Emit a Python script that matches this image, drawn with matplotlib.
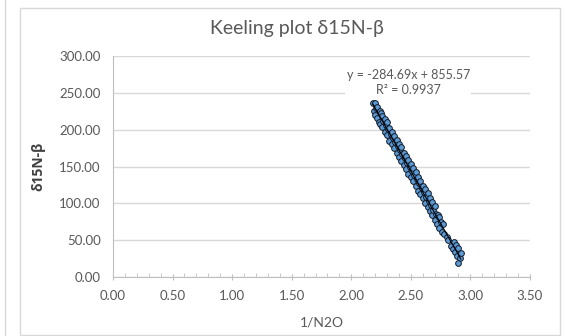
import matplotlib.pyplot as plt
from matplotlib.lines import Line2D
from matplotlib.patches import Rectangle
from matplotlib.ticker import MultipleLocator, FormatStrFormatter

plt.rcParams['font.family'] = ['Lato', 'DejaVu Sans']

# 1/N2O 与 δ15N-β 数据
inv_n2o = [2.18, 2.19, 2.20, 2.20, 2.21, 2.22, 2.22, 2.23, 2.24, 2.24, 2.25, 2.26,
           2.26, 2.27, 2.28, 2.28, 2.29, 2.30, 2.30, 2.31, 2.32, 2.32, 2.33, 2.34,
           2.34, 2.35, 2.36, 2.36, 2.37, 2.38, 2.38, 2.39, 2.40, 2.40, 2.41, 2.42,
           2.42, 2.43, 2.44, 2.44, 2.45, 2.46, 2.46, 2.47, 2.48, 2.48, 2.49, 2.50,
           2.50, 2.51, 2.52, 2.52, 2.53, 2.54, 2.54, 2.55, 2.56, 2.56, 2.57, 2.58,
           2.58, 2.59, 2.60, 2.60, 2.61, 2.62, 2.62, 2.63, 2.64, 2.64, 2.65, 2.66,
           2.66, 2.67, 2.68, 2.68, 2.69, 2.70, 2.70, 2.71, 2.72, 2.73, 2.74, 2.74,
           2.75, 2.76, 2.77, 2.78, 2.80, 2.81, 2.84, 2.85, 2.86, 2.87, 2.88, 2.89,
           2.90, 2.91, 2.92, 2.90]
d15n_beta = [236, 226, 236, 220, 230, 216, 231, 211, 225, 208, 222, 203,
             218, 212, 197, 215, 206, 193, 210, 201, 185, 202, 194, 180,
             197, 189, 175, 191, 183, 169, 186, 178, 163, 180, 172, 158,
             176, 167, 152, 169, 161, 146, 164, 155, 140, 159, 150, 136,
             153, 144, 130, 148, 139, 124, 142, 133, 117, 136, 127, 113,
             131, 121, 107, 124, 115, 101, 119, 109, 95, 114, 103, 90,
             107, 98, 84, 102, 91, 78, 96, 86, 72, 84, 67, 82,
             75, 61, 72, 58, 54, 50, 42, 38, 47, 34, 44, 29,
             39, 26, 32, 19]

slope = -284.69
intercept = 855.57
r2 = 0.9937

grey = '#595959'

fig = plt.figure(figsize=(5.65, 3.36), dpi=100)
ax = fig.add_axes([0.2, 0.1756, 0.738, 0.6577])

ax.scatter(inv_n2o, d15n_beta, s=17, c='#5B9BD5', edgecolors='#111827',
           linewidths=0.7, zorder=3)
x0, x1 = min(inv_n2o), max(inv_n2o)
ax.plot([x0, x1], [slope * x0 + intercept, slope * x1 + intercept],
        color='black', lw=0.8, zorder=4)

ax.set_xlim(0, 3.5)
ax.set_ylim(0, 300)
ax.xaxis.set_major_locator(MultipleLocator(0.5))
ax.xaxis.set_minor_locator(MultipleLocator(0.1))
ax.yaxis.set_major_locator(MultipleLocator(50))
ax.xaxis.set_major_formatter(FormatStrFormatter('%.2f'))
ax.yaxis.set_major_formatter(FormatStrFormatter('%.2f'))
ax.grid(axis='y', color='#D9D9D9', lw=1)
ax.set_axisbelow(True)
for s in ['top', 'right']:
    ax.spines[s].set_visible(False)
for s in ['left', 'bottom']:
    ax.spines[s].set_color('#BFBFBF')
ax.tick_params(axis='x', which='major', direction='inout', length=5,
               color='#BFBFBF', labelsize=9.5, labelcolor=grey, pad=7)
ax.tick_params(axis='x', which='minor', direction='in', length=3, color='#BFBFBF')
ax.tick_params(axis='y', length=0, labelsize=9.5, labelcolor=grey, pad=9)

ax.set_xlabel('1/N2O', fontsize=10, color=grey, labelpad=10)
ax.set_ylabel('δ15N-β', fontsize=10, color='#404040', fontweight='bold',
              family=['Open Sans', 'DejaVu Sans'], labelpad=10)
fig.text(0.525, 0.915, 'Keeling plot δ15N-β', fontsize=14, color=grey,
         ha='center', va='center')

eq = 'y = %.2fx + %.2f\nR² = %.4f' % (slope, intercept, r2)
ax.text(0.708, 0.88, eq, transform=ax.transAxes, fontsize=9, color=grey,
        ha='center', va='center', multialignment='center', linespacing=1.35,
        bbox=dict(facecolor='white', edgecolor='none', pad=1), zorder=5)

# 图表外框
fig.patches.append(Rectangle((20 / 565, 1 / 336), 540 / 565, 327 / 336,
                             transform=fig.transFigure, fill=False,
                             edgecolor='#D9D9D9', lw=1))
fig.lines.append(Line2D([5 / 565, 5 / 565], [0, 1], transform=fig.transFigure,
                        color='#D9D9D9', lw=1))

plt.savefig('out.png', dpi=100)
